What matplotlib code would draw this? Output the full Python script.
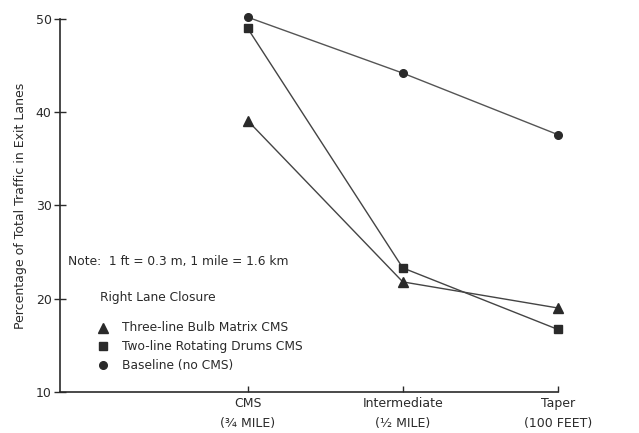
import matplotlib
matplotlib.use("Agg")
import matplotlib.pyplot as plt

# Sign location categories along the approach to the lane closure
locations = ["CMS", "Intermediate", "Taper"]
distances = ["(¾ MILE)", "(½ MILE)", "(100 FEET)"]

# Percentage of total traffic in exit lanes
three_line_bulb = [39.1, 21.8, 19.0]
two_line_drums = [49.0, 23.3, 16.7]
baseline = [50.2, 44.2, 37.6]

yticks = [10, 20, 30, 40, 50]

ink = "#2a2a2a"
plt.rcParams["font.family"] = ["DejaVu Sans"]

fig = plt.figure(figsize=(6.39, 4.33), dpi=100)
ax = fig.add_axes([0.094, 0.095, 0.779, 0.861])

x = list(range(1, len(locations) + 1))

ax.plot(x, baseline, color="#555555", lw=1.0, marker="o", ms=5.5,
        mfc=ink, mec=ink, clip_on=False, zorder=3)
ax.plot(x, two_line_drums, color="#444444", lw=1.0, marker="s", ms=5.5,
        mfc=ink, mec=ink, clip_on=False, zorder=3)
ax.plot(x, three_line_bulb, color="#444444", lw=1.0, marker="^", ms=7.5,
        mfc=ink, mec=ink, clip_on=False, zorder=3)

ax.set_xlim(-0.21, 3.0)
ax.set_ylim(10, 50)
ax.set_yticks(yticks)
ax.set_yticklabels([str(v) for v in yticks], fontsize=9, color=ink)
ax.set_xticks(x)
ax.set_xticklabels([f"{a}\n{b}" for a, b in zip(locations, distances)],
                   fontsize=9, color=ink, linespacing=1.65)

for side in ("top", "right"):
    ax.spines[side].set_visible(False)
for side in ("left", "bottom"):
    ax.spines[side].set_color(ink)
    ax.spines[side].set_linewidth(1.2)

ax.tick_params(axis="y", direction="inout", length=8, width=1, color=ink, pad=2)
ax.tick_params(axis="x", direction="in", length=4, width=1, color=ink, pad=4)

ax.set_ylabel("Percentage of Total Traffic in Exit Lanes", fontsize=9,
              color=ink, labelpad=6)

# Annotations and legend block
ax.text(0.016, 0.349, "Note:  1 ft = 0.3 m, 1 mile = 1.6 km",
        transform=ax.transAxes, fontsize=8.8, color=ink, va="center")
ax.text(0.08, 0.252, "Right Lane Closure",
        transform=ax.transAxes, fontsize=8.8, color=ink, va="center")

legend_rows = [("^", 7.5, "Three-line Bulb Matrix CMS"),
               ("s", 5.5, "Two-line Rotating Drums CMS"),
               ("o", 5.5, "Baseline (no CMS)")]
for i, (m, s, label) in enumerate(legend_rows):
    yy = 0.172 - i * 0.05
    ax.plot([0.087], [yy], marker=m, ms=s, color=ink, ls="none",
            transform=ax.transAxes, clip_on=False)
    ax.text(0.124, yy, label, transform=ax.transAxes, fontsize=8.8,
            color=ink, va="center")

fig.savefig("out.png", dpi=100)
